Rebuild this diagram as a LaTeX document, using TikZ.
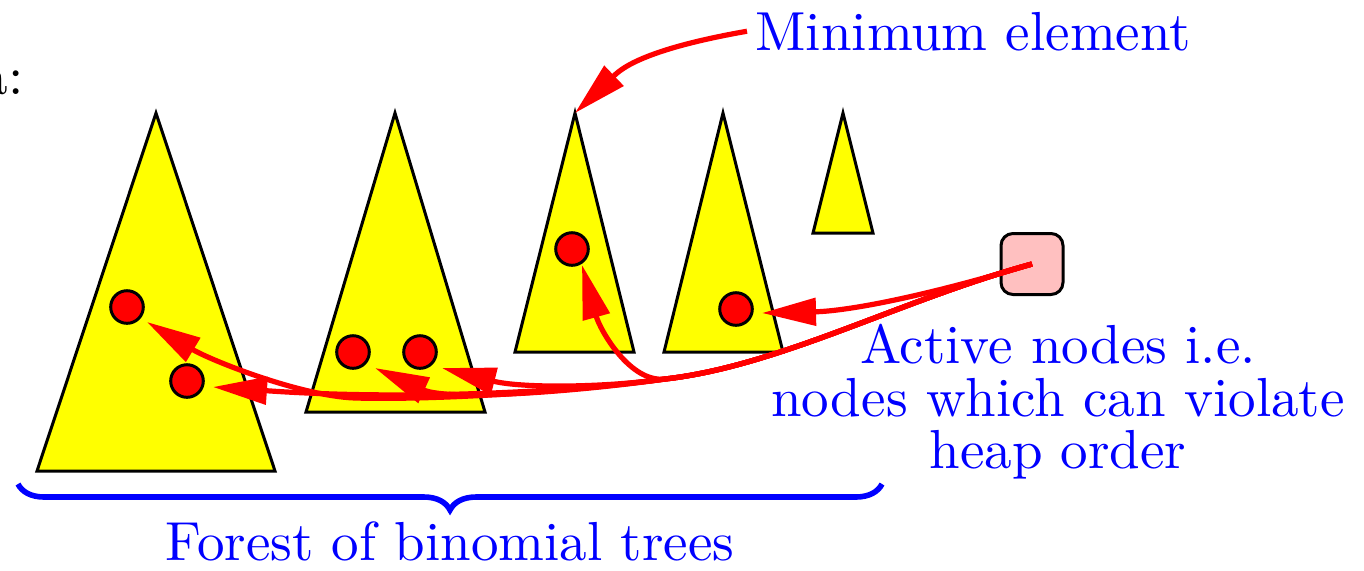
\documentclass[tikz,border=0pt]{standalone}
\usetikzlibrary{arrows.meta,decorations.pathreplacing}
\definecolor{boxpink}{RGB}{255,192,192}
\definecolor{pureyellow}{RGB}{255,255,0}
\font\bigrm="[lmroman10-regular]:+tlig" at 27.5pt
\tikzset{
  tri/.style={fill=pureyellow, draw=black, line width=1.5pt, line join=miter},
  actnode/.style={circle, fill=red, draw=black, line width=1.5pt, minimum size=16.3pt, inner sep=0pt},
  actbox/.style={draw=black, fill=boxpink, rounded corners=6pt, line width=1.5pt, minimum width=31pt, minimum height=30.5pt, inner sep=0pt},
  arr/.style={red, line width=2.6pt, -{Triangle[length=27pt,width=13.5pt]}},
  lbl/.style={blue, font={\fontsize{27.5}{26.25}\selectfont\bigrm}, inner sep=0pt},
}
\begin{document}
\begin{tikzpicture}[x=0.5pt,y=-0.5pt]
\useasboundingbox (0,0) rectangle (1364,570);
% trees
\draw[tri] (156,113) -- (275,471) -- (37,471) -- cycle;
\draw[tri] (395,113) -- (485,412) -- (306,412) -- cycle;
\draw[tri] (575,113) -- (634,352) -- (515,352) -- cycle;
\draw[tri] (723,113) -- (783,352) -- (664,352) -- cycle;
\draw[tri] (843,113) -- (873,233) -- (813,233) -- cycle;
\coordinate (t3top) at (575,113);
% active nodes
\node[actnode] (c1) at (127,307) {};
\node[actnode] (c2) at (187,381) {};
\node[actnode] (c3) at (353,352) {};
\node[actnode] (c4) at (420,352) {};
\node[actnode] (c5) at (572,249) {};
\node[actnode] (c6) at (736,309) {};
\coordinate (c1tip) at (147,322);
\coordinate (c2tip) at (213,387);
\coordinate (c3tip) at (375,368);
\coordinate (c4tip) at (442,368);
\coordinate (c5tip) at (582,265);
\coordinate (c6tip) at (762,313);
% box
\node[actbox] (box) at (1032,264) {};
% labels
\node[lbl, anchor=base west, inner xsep=4pt] (minel) at (747,50) {Minimum element};
\node[lbl, anchor=base east, text=black] (alab) at (24,94) {a:};
\node[lbl, anchor=north, align=center] (actlab) at (1058,324) {Active nodes i.e.\\nodes which can violate\\heap order};
\node[lbl, anchor=base] (forest) at (450,560) {Forest of binomial trees};
% brace
\coordinate (bl) at (18,484);
\coordinate (br) at (882,484);
\draw[blue, line width=2.8pt, decorate, decoration={brace, mirror, amplitude=13pt}] (bl) -- (br);
% arrows
\draw[arr] (minel.west) .. controls (640,50) and (620,70) .. (t3top);
\draw[arr] (box.center) .. controls (930,295) and (850,311) .. (c6tip);
\draw[arr] (box.center) .. controls (900,300) and (780,366) .. (665,379)
   .. controls (630,383) and (600,330) .. (c5tip);
\draw[arr] (box.center) .. controls (900,300) and (780,366) .. (665,379)
   .. controls (600,388) and (520,388) .. (c4tip);
\draw[arr] (box.center) .. controls (900,300) and (780,366) .. (665,379)
   .. controls (590,390) and (450,402) .. (c3tip);
\draw[arr] (box.center) .. controls (900,300) and (780,366) .. (665,379)
   .. controls (560,393) and (400,400) .. (c2tip);
\draw[arr] (box.center) .. controls (900,300) and (780,366) .. (665,379)
   .. controls (560,393) and (430,400) .. (355,398)
   .. controls (300,396) and (210,360) .. (c1tip);
\end{tikzpicture}
\end{document}
